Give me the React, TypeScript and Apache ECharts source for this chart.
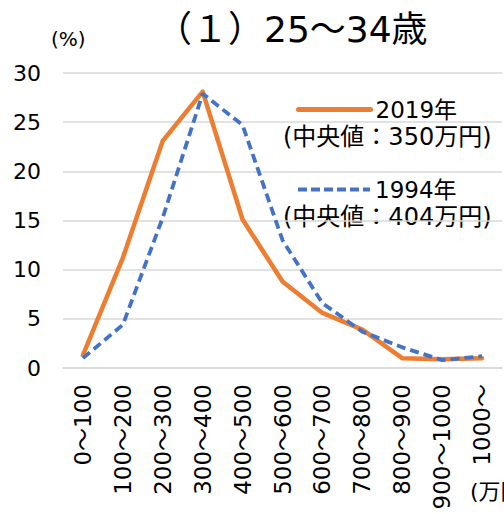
import React, { useEffect, useRef } from "react";
import * as echarts from "echarts";

// Annual income brackets (万円) for ages 25-34
const categories = [
  "0〜100",
  "100〜200",
  "200〜300",
  "300〜400",
  "400〜500",
  "500〜600",
  "600〜700",
  "700〜800",
  "800〜900",
  "900〜1000",
  "1000〜",
];

// Share of workers in each bracket (%)
const values2019 = [1.3, 11.2, 23.1, 28.1, 15.1, 8.8, 5.6, 3.9, 1.0, 0.9, 1.0];
const values1994 = [1.0, 4.4, 15.3, 27.9, 24.7, 13.0, 6.6, 3.7, 2.1, 0.8, 1.2];

const seriesNames = ["2019年", "1994年"];
const medianNotes = ["(中央値：350万円)", "(中央値：404万円)"];
const yTicks = { min: 0, max: 30, interval: 5 };

const FONT = "'DejaVu Sans', 'Noto Sans CJK JP', sans-serif";
const ORANGE = "#ED7D31";
const BLUE = "#4472C4";
const GRID = "#d9d9d9";

export default function App() {
  const ref = useRef<HTMLDivElement>(null);

  useEffect(() => {
    if (!ref.current) return;
    const chart = echarts.init(ref.current, null, { renderer: "svg" });

    const legendBase = {
      orient: "horizontal" as const,
      itemWidth: 72,
      itemHeight: 14,
      itemStyle: { color: "transparent", borderWidth: 0, opacity: 0 },
      textStyle: { fontFamily: FONT, fontSize: 23, color: "#000" },
      selectedMode: false,
    };

    const noteStyle = { fontFamily: FONT, fontSize: 24, fill: "#000" };

    chart.setOption({
      animation: false,
      backgroundColor: "#fff",
      textStyle: { fontFamily: FONT },
      title: {
        text: "（１）25〜34歳",
        left: 151,
        top: 6,
        textStyle: { fontFamily: FONT, fontSize: 36, fontWeight: "normal", color: "#000" },
      },
      legend: [
        {
          ...legendBase,
          data: [seriesNames[0]],
          left: 291,
          top: 93,
          lineStyle: { color: ORANGE, width: 5, cap: "round" },
        },
        {
          ...legendBase,
          data: [seriesNames[1]],
          left: 291,
          top: 173,
          lineStyle: { color: BLUE, width: 4, type: [9, 4] },
        },
      ],
      grid: { left: 63, right: 2, top: 73, bottom: 146, containLabel: false },
      xAxis: {
        type: "category",
        data: categories,
        boundaryGap: true,
        axisLine: { show: true, lineStyle: { color: GRID, width: 1.5 } },
        axisTick: { show: false },
        axisLabel: {
          interval: 0,
          rotate: 90,
          margin: 16,
          fontFamily: FONT,
          fontSize: 23,
          color: "#000",
        },
      },
      yAxis: {
        type: "value",
        min: yTicks.min,
        max: yTicks.max,
        interval: yTicks.interval,
        axisLine: { show: false },
        axisTick: { show: false },
        axisLabel: { margin: 22, fontFamily: FONT, fontSize: 22, color: "#000" },
        splitLine: { lineStyle: { color: GRID, width: 1.5 } },
      },
      series: [
        {
          name: seriesNames[0],
          type: "line",
          data: values2019,
          symbol: "none",
          color: ORANGE,
          lineStyle: { color: ORANGE, width: 4.5, cap: "round", join: "round" },
          z: 3,
        },
        {
          name: seriesNames[1],
          type: "line",
          data: values1994,
          symbol: "none",
          color: BLUE,
          lineStyle: { color: BLUE, width: 3.8, type: [9, 5] },
          z: 4,
        },
      ],
      graphic: [
        {
          type: "text",
          left: 51,
          top: 29,
          style: { text: "(%)", fontFamily: FONT, fontSize: 20, fill: "#000" },
        },
        { type: "text", left: 283, top: 125, style: { ...noteStyle, text: medianNotes[0] } },
        { type: "text", left: 283, top: 205, style: { ...noteStyle, text: medianNotes[1] } },
        {
          type: "text",
          left: 470,
          top: 480,
          style: { text: "(万円)", fontFamily: FONT, fontSize: 22, fill: "#000" },
        },
      ],
    });

    return () => chart.dispose();
  }, []);

  return (
    <div
      ref={ref}
      style={{ position: "absolute", left: 0, top: 0, width: 504, height: 514 }}
    />
  );
}
